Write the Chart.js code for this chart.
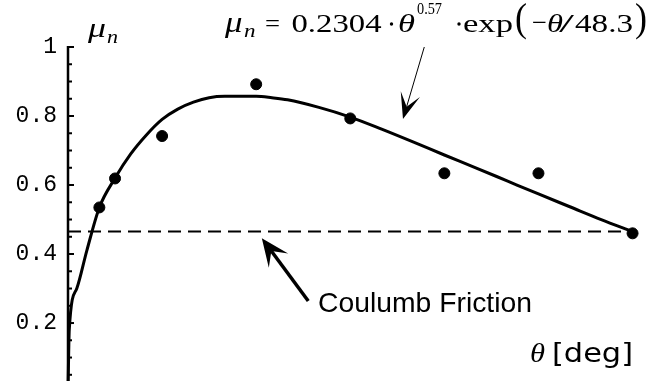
<!DOCTYPE html>
<html>
<head>
<meta charset="utf-8">
<script src="https://cdn.jsdelivr.net/npm/chart.js@4/dist/chart.umd.min.js"></script>
<style>
html, body { margin: 0; padding: 0; background: #fff; }
#wrap { width: 652px; height: 381px; position: relative; }
</style>
</head>
<body>
<div id="wrap"><canvas id="main-chart"></canvas></div>
<script>
// fitted curve
const fit_theta = [0, 0.2, 1.4, 3, 5, 7.5, 10, 12.5, 15, 17.5, 20, 22.5, 25, 30, 32.5, 35, 40, 45, 50, 55, 60, 65, 70, 75, 80, 85, 90];
const fit_mu = [0.0, 0.18, 0.30, 0.41, 0.535, 0.62, 0.69, 0.745, 0.79, 0.82, 0.84, 0.853, 0.857, 0.857, 0.853, 0.847, 0.825, 0.797, 0.762, 0.725, 0.687, 0.65, 0.612, 0.574, 0.537, 0.50, 0.465];

// measured points
const test_theta = [5, 7.5, 15, 30, 45, 60, 75, 90];
const test_mu = [0.535, 0.619, 0.742, 0.892, 0.793, 0.634, 0.634, 0.46];

// coulomb friction level
const coulomb_theta = [0, 90];
const coulomb_mu = [0.465, 0.465];

const y_labels = [0.2, 0.4, 0.6, 0.8, 1];

function toXY(xs, ys) {
    return xs.map((x, i) => ({x: x, y: ys[i]}));
}

// stretch text so it covers the width seen in the picture
function fitText(ctx, txt, font, x, y, w)
{
    ctx.font = font;
    let m = ctx.measureText(txt).width;
    ctx.save();
    ctx.translate(x, y);
    ctx.scale(w / m, 1);
    ctx.fillText(txt, 0, 0);
    ctx.restore();
}

function drawArrow(ctx, x1, y1, x2, y2, shaft, headLen, headHalf, notch)
{
    let dx = x2 - x1, dy = y2 - y1;
    let len = Math.sqrt(dx*dx + dy*dy);
    let ux = dx/len, uy = dy/len;
    let nx = -uy, ny = ux;

    ctx.beginPath();
    ctx.lineWidth = shaft;
    ctx.moveTo(x1, y1);
    ctx.lineTo(x2 - ux*notch, y2 - uy*notch);
    ctx.stroke();

    ctx.beginPath();
    ctx.moveTo(x2, y2);
    ctx.lineTo(x2 - ux*headLen + nx*headHalf, y2 - uy*headLen + ny*headHalf);
    ctx.lineTo(x2 - ux*notch, y2 - uy*notch);
    ctx.lineTo(x2 - ux*headLen - nx*headHalf, y2 - uy*headLen - ny*headHalf);
    ctx.closePath();
    ctx.fill();
}

const annotations = {
    id: 'annotations',
    afterDraw(chart) {
        const ctx = chart.ctx;
        const xs = chart.scales.x, ys = chart.scales.y;
        const area = chart.chartArea;
        ctx.save();
        ctx.fillStyle = '#000';
        ctx.strokeStyle = '#000';
        ctx.textAlign = 'left';
        ctx.textBaseline = 'alphabetic';

        // y axis line with inward ticks
        ctx.lineWidth = 2.5;
        ctx.beginPath();
        ctx.moveTo(area.left, ys.getPixelForValue(1) - 1);
        ctx.lineTo(area.left, chart.height);
        ctx.stroke();
        ctx.lineWidth = 2;
        for (let k = 1; k <= 20; k++) {
            let py = ys.getPixelForValue(k * 0.05);
            let major = (k % 4 === 0);
            ctx.beginPath();
            ctx.moveTo(area.left, py);
            ctx.lineTo(area.left + (major ? 6 : 4), py);
            ctx.stroke();
        }

        // axis labels
        fitText(ctx, 'μ', 'italic 28px "Liberation Serif"', 88, 37, 18);
        fitText(ctx, 'n', 'italic 18px "Liberation Serif"', 107, 43, 11);
        fitText(ctx, 'θ', 'italic 27px "Liberation Serif"', 530, 362, 15);
        fitText(ctx, '[deg]', '26px "DejaVu Sans"', 552, 362, 81);

        // formula
        fitText(ctx, 'μ', 'italic 29px "Liberation Serif"', 225, 32, 17.5);
        fitText(ctx, 'n', 'italic 18px "Liberation Serif"', 244, 37, 11.5);
        fitText(ctx, '=', '26px "Liberation Serif"', 265, 32, 15);
        fitText(ctx, '0.2304', '25px "Liberation Serif"', 291.5, 32, 90);
        ctx.beginPath(); ctx.arc(391.5, 24, 1.7, 0, Math.PI*2); ctx.fill();
        fitText(ctx, 'θ', 'italic 26px "Liberation Serif"', 398, 32, 17);
        fitText(ctx, '0.57', '16px "Liberation Serif"', 417, 14, 25);
        ctx.beginPath(); ctx.arc(459, 24, 1.7, 0, Math.PI*2); ctx.fill();
        fitText(ctx, 'exp', '26px "Liberation Serif"', 463, 32, 50);
        fitText(ctx, '(', '40px "Liberation Serif"', 515, 31, 12);
        fitText(ctx, '−', '26px "Liberation Serif"', 532, 31, 15);
        fitText(ctx, 'θ', 'italic 26px "Liberation Serif"', 547, 32, 16);
        fitText(ctx, '/', '26px "Liberation Serif"', 559, 32, 15);
        fitText(ctx, '48.3', '25px "Liberation Serif"', 575, 32, 58);
        fitText(ctx, ')', '40px "Liberation Serif"', 635, 31, 12);

        // formula arrow
        drawArrow(ctx, xs.getPixelForValue(56.8), ys.getPixelForValue(1.0),
                  xs.getPixelForValue(53.4), ys.getPixelForValue(0.791), 1, 26, 10, 13);

        // coulomb friction arrow + label
        drawArrow(ctx, xs.getPixelForValue(38.3), ys.getPixelForValue(0.264),
                  xs.getPixelForValue(30.9), ys.getPixelForValue(0.446), 3.5, 28, 12, 16);
        fitText(ctx, 'Coulumb Friction', '28px "Liberation Sans"', 318, 312, 214);

        ctx.restore();
    }
};

Chart.defaults.font.family = '"Liberation Mono", monospace';
Chart.defaults.color = '#000';

const main_chart = new Chart(document.getElementById('main-chart'), {
    type: 'scatter',
    data: {
        datasets: [
            {
                label: 'measured',
                data: toXY(test_theta, test_mu),
                backgroundColor: '#000',
                borderColor: '#000',
                pointRadius: 5.5,
                showLine: false,
                clip: false
            },
            {
                label: 'fit',
                data: toXY(fit_theta, fit_mu),
                borderColor: '#000',
                borderWidth: 3,
                pointRadius: 0,
                showLine: true,
                clip: false,
                cubicInterpolationMode: 'monotone'
            },
            {
                label: 'coulomb',
                data: toXY(coulomb_theta, coulomb_mu),
                borderColor: '#000',
                borderWidth: 2,
                borderDash: [13, 7],
                pointRadius: 0,
                showLine: true
            }
        ]
    },
    options: {
        responsive: true,
        maintainAspectRatio: false,
        animation: false,
        layout: { autoPadding: false, padding: { top: 47, right: 0, bottom: 0, left: 0 } },
        plugins: { legend: { display: false }, tooltip: { enabled: false } },
        scales: {
            x: { type: 'linear', min: 0, max: 93.1, display: false },
            y: {
                type: 'linear',
                min: 0.032,
                max: 1,
                afterBuildTicks: s => { s.ticks = y_labels.map(v => ({value: v})); },
                afterFit: s => { s.width = 68; s.paddingTop = 0; s.paddingBottom = 0; },
                grid: { display: false, drawTicks: false },
                border: { display: false },
                ticks: {
                    padding: 11,
                    font: { size: 23 },
                    callback: v => (v === 1 ? '1' : v.toFixed(1))
                }
            }
        }
    },
    plugins: [annotations]
});
</script>
</body>
</html>
